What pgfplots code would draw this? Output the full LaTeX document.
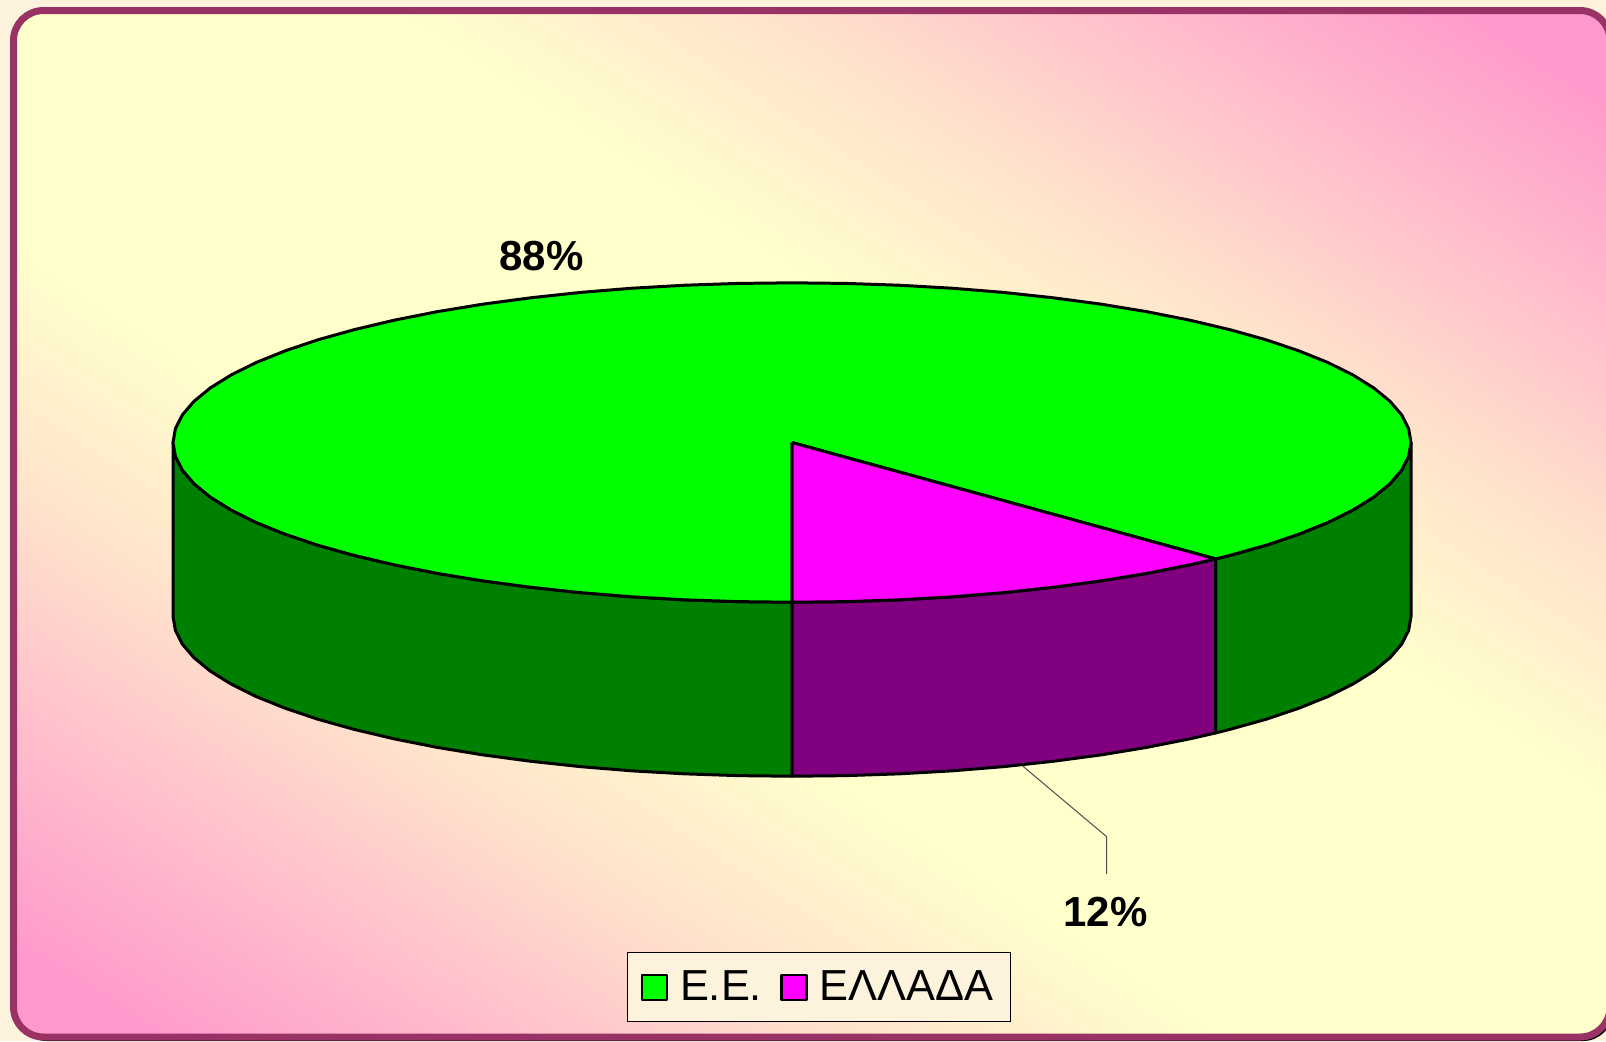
\documentclass[border=0pt]{standalone}
\usepackage{fontspec}
\setmainfont{Liberation Sans}
\usepackage{pgfplots}
\pgfplotsset{compat=1.18}
\definecolor{pagebg}{HTML}{FDF3DD}
\definecolor{bgyellow}{HTML}{FFFFCC}
\definecolor{bgmid}{HTML}{FFE4CC}
\definecolor{bgpink}{HTML}{FF99CC}
\definecolor{frame}{HTML}{993366}
\definecolor{topgreen}{HTML}{00FF00}
\definecolor{wallgreen}{HTML}{008000}
\definecolor{topmag}{HTML}{FF00FF}
\definecolor{wallmag}{HTML}{800080}
\pgfdeclarehorizontalshading{bgshade}{100bp}{color(0bp)=(bgpink); color(18bp)=(bgpink); color(34bp)=(bgmid); color(42bp)=(bgyellow); color(58bp)=(bgyellow); color(66bp)=(bgmid); color(82bp)=(bgpink); color(100bp)=(bgpink)}
\begin{document}
\begin{tikzpicture}
\path[use as bounding box, clip] (0pt,0pt) rectangle (803pt,-520.5pt);
\begin{scope}[x=0.5pt,y=-0.5pt]
\fill[pagebg] (0,0) rectangle (1606,1041);
\fill[black, rounded corners=15pt] (17,13) rectangle (1613,1041);
\path[draw=frame, line width=3.5pt, rounded corners=15pt, shading=bgshade, shading angle=57] (13.5,10.5) rectangle (1610,1037);
\end{scope}
\begin{axis}[
  at={(401.5pt,-260.25pt)}, anchor=center, scale only axis,
  width=803pt, height=520.5pt,
  xmin=0, xmax=1606, ymin=0, ymax=1041, y dir=reverse,
  hide axis, clip=false,
  legend columns=2,
  legend image code/.code={\draw[#1, line width=1.25pt] (0pt,-6.25pt) rectangle (12.5pt,6.25pt);},
  legend style={at={(axis cs:627,952.3)}, anchor=north west, draw=black, line width=0.5pt,
    fill=pagebg, font=\fontsize{21.7}{26}\selectfont, inner xsep=6.5pt, inner ysep=7pt,
    /tikz/every odd column/.append style={column sep=4pt},
    /tikz/every even column/.append style={column sep=7pt}},
  every axis plot/.append style={line width=1.5pt, line join=round, draw=black},
]
% side wall, left
\addplot[fill=wallgreen, forget plot] coordinates {
(792.0,602.2)(738.0,601.6)(684.5,599.8)(631.8,596.8)(580.3,592.6)(530.4,587.2)(482.5,580.8)(436.9,573.3)(394.1,564.8)(354.3,555.4)(317.8,545.2)(284.9,534.1)(255.9,522.4)(231.0,510.0)(210.3,497.1)(194.1,483.8)(182.4,470.2)(175.4,456.4)(173.0,442.5)
(173.0,616.5)(175.4,630.4)(182.4,644.2)(194.1,657.8)(210.3,671.1)(231.0,684.0)(255.9,696.4)(284.9,708.1)(317.8,719.2)(354.3,729.4)(394.1,738.8)(436.9,747.3)(482.5,754.8)(530.4,761.2)(580.3,766.6)(631.8,770.8)(684.5,773.8)(738.0,775.6)(792.0,776.2)(792.0,602.2)
};
% side wall, right
\addplot[fill=wallgreen, forget plot] coordinates {
(1215.7,558.9)(1229.7,555.4)(1266.2,545.2)(1299.1,534.1)(1328.1,522.4)(1353.0,510.0)(1373.7,497.1)(1389.9,483.8)(1401.6,470.2)(1408.6,456.4)(1411.0,442.5)
(1411.0,616.5)(1408.6,630.4)(1401.6,644.2)(1389.9,657.8)(1373.7,671.1)(1353.0,684.0)(1328.1,696.4)(1299.1,708.1)(1266.2,719.2)(1229.7,729.4)(1215.7,732.9)(1215.7,558.9)
};
% side wall, 12% slice
\addplot[fill=wallmag, forget plot] coordinates {
(792.0,602.2)(846.0,601.6)(899.5,599.8)(952.2,596.8)(1003.7,592.6)(1053.6,587.2)(1101.5,580.8)(1147.1,573.3)(1189.9,564.8)(1215.7,558.9)
(1215.7,732.9)(1189.9,738.8)(1147.1,747.3)(1101.5,754.8)(1053.6,761.2)(1003.7,766.6)(952.2,770.8)(899.5,773.8)(846.0,775.6)(792.0,776.2)(792.0,602.2)
};
% top, 88%
\addplot[fill=topgreen] coordinates {
(792.0,442.5)(792.0,602.2)(738.0,601.6)(684.5,599.8)(631.8,596.8)(580.3,592.6)(530.4,587.2)(482.5,580.8)(436.9,573.3)(394.1,564.8)(354.3,555.4)(317.8,545.2)(284.9,534.1)(255.9,522.4)(231.0,510.0)(210.3,497.1)(194.1,483.8)(182.4,470.2)(175.4,456.4)(173.0,442.5)
(175.4,428.6)(182.4,414.8)(194.1,401.2)(210.3,387.9)(231.0,375.0)(255.9,362.6)(284.9,350.9)(317.8,339.8)(354.3,329.6)(394.1,320.2)(436.9,311.7)(482.5,304.2)(530.4,297.8)(580.3,292.4)(631.8,288.2)(684.5,285.2)(738.0,283.4)(792.0,282.8)
(846.0,283.4)(899.5,285.2)(952.2,288.2)(1003.7,292.4)(1053.6,297.8)(1101.5,304.2)(1147.1,311.7)(1189.9,320.2)(1229.7,329.6)(1266.2,339.8)(1299.1,350.9)(1328.1,362.6)(1353.0,375.0)(1373.7,387.9)(1389.9,401.2)(1401.6,414.8)(1408.6,428.6)(1411.0,442.5)
(1408.6,456.4)(1401.6,470.2)(1389.9,483.8)(1373.7,497.1)(1353.0,510.0)(1328.1,522.4)(1299.1,534.1)(1266.2,545.2)(1229.7,555.4)(1215.7,558.9)(792.0,442.5)
};
\addlegendentry{Ε.Ε.}
% top, 12%
\addplot[fill=topmag] coordinates {
(792.0,442.5)(1215.7,558.9)(1189.9,564.8)(1147.1,573.3)(1101.5,580.8)(1053.6,587.2)(1003.7,592.6)(952.2,596.8)(899.5,599.8)(846.0,601.6)(792.0,602.2)(792.0,442.5)
};
\addlegendentry{ΕΛΛΑΔΑ}
% leader
\addplot[forget plot, line width=0.5pt, draw=black!70] coordinates {(1022.7,766)(1106.7,836.7)(1106.7,874)};
\node[font=\bfseries\fontsize{21}{24}\selectfont] at (axis cs:541.5,256) {88\%};
\node[font=\bfseries\fontsize{21}{24}\selectfont] at (axis cs:1105.5,911.5) {12\%};
\end{axis}
\end{tikzpicture}
\end{document}
